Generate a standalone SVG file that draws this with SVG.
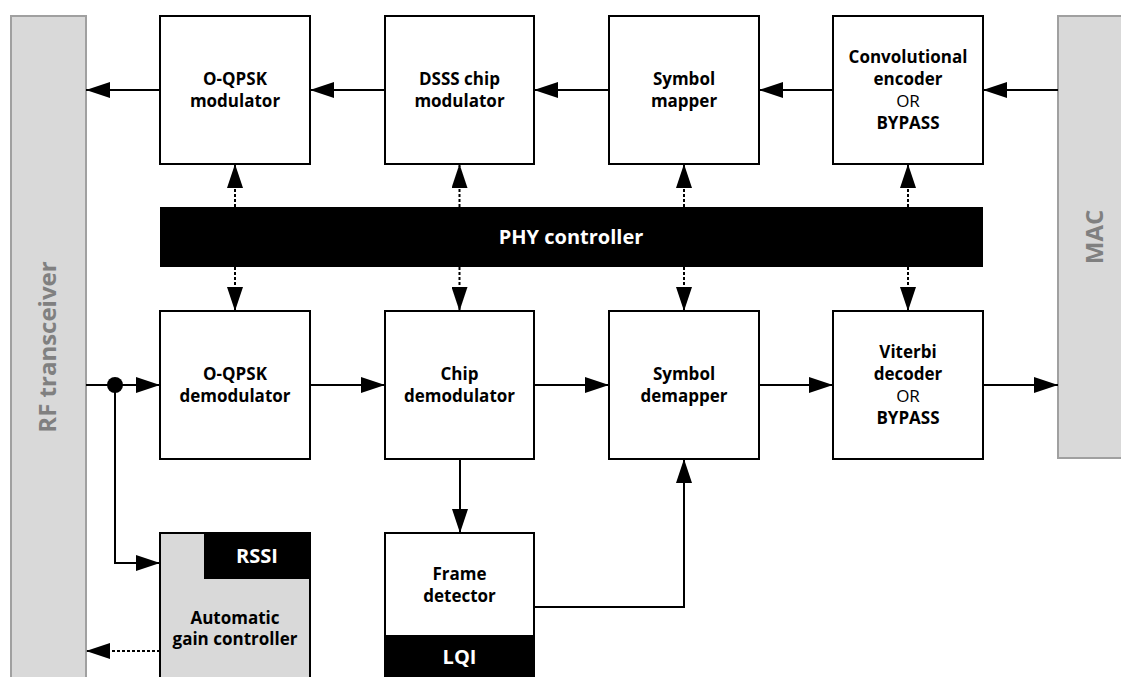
<svg xmlns="http://www.w3.org/2000/svg" width="1121" height="677" viewBox="0 0 1121 677">
<style>
.box{fill:#fff;stroke:#000;stroke-width:2}
.gbox{fill:#d9d9d9;stroke:#000;stroke-width:2}
.side{fill:#d9d9d9;stroke:#a0a0a0;stroke-width:2}
.t{font-family:"Open Sans","Noto Sans",sans-serif;font-size:17px;font-weight:bold;fill:#000;text-anchor:middle}
.n{font-weight:normal}
.w{fill:#fff}
.big{font-size:20px}
.side-t{font-family:"Open Sans","Noto Sans",sans-serif;font-size:24px;font-weight:bold;fill:#808080;text-anchor:middle}
.ln{fill:none;stroke:#000;stroke-width:2}
.dt{fill:none;stroke:#000;stroke-width:2;stroke-dasharray:3,2}
</style>
<defs>
<marker id="ah" markerUnits="userSpaceOnUse" markerWidth="24" markerHeight="16" refX="24" refY="8" orient="auto" viewBox="0 0 24 16">
<path d="M0,0 L24,8 L0,16 z" fill="#000"/>
</marker>
</defs>
<rect width="1121" height="677" fill="#fff"/>

<g id="rf">
<rect class="side" x="11" y="16" width="75" height="670"/>
<text class="side-t" transform="translate(56,347) rotate(-90)">RF transceiver</text>
</g>
<g id="mac">
<rect class="side" x="1058" y="16" width="75" height="442"/>
<text class="side-t" transform="translate(1103,237) rotate(-90)">MAC</text>
</g>

<g id="oqpsk-mod">
<rect class="box" x="160" y="16" width="150" height="148"/>
<text class="t" x="235" y="85">O-QPSK</text>
<text class="t" x="235" y="107">modulator</text>
</g>
<g id="dsss-mod">
<rect class="box" x="385" y="16" width="149" height="148"/>
<text class="t" x="459.5" y="85">DSSS chip</text>
<text class="t" x="459.5" y="107">modulator</text>
</g>
<g id="sym-mapper">
<rect class="box" x="609" y="16" width="150" height="148"/>
<text class="t" x="684" y="85">Symbol</text>
<text class="t" x="684" y="107">mapper</text>
</g>
<g id="conv-enc">
<rect class="box" x="833" y="16" width="150" height="148"/>
<text class="t" x="908" y="63">Convolutional</text>
<text class="t" x="908" y="85">encoder</text>
<text class="t n" x="908" y="107">OR</text>
<text class="t" x="908" y="129">BYPASS</text>
</g>

<g id="phy">
<rect x="160" y="207" width="823" height="60" fill="#000"/>
<text class="t w big" x="571" y="244">PHY controller</text>
</g>

<g id="oqpsk-demod">
<rect class="box" x="160" y="311" width="150" height="148"/>
<text class="t" x="235" y="380">O-QPSK</text>
<text class="t" x="235" y="402">demodulator</text>
</g>
<g id="chip-demod">
<rect class="box" x="385" y="311" width="149" height="148"/>
<text class="t" x="459.5" y="380">Chip</text>
<text class="t" x="459.5" y="402">demodulator</text>
</g>
<g id="sym-demapper">
<rect class="box" x="609" y="311" width="150" height="148"/>
<text class="t" x="684" y="380">Symbol</text>
<text class="t" x="684" y="402">demapper</text>
</g>
<g id="viterbi">
<rect class="box" x="833" y="311" width="150" height="148"/>
<text class="t" x="908" y="358">Viterbi</text>
<text class="t" x="908" y="380">decoder</text>
<text class="t n" x="908" y="402">OR</text>
<text class="t" x="908" y="424">BYPASS</text>
</g>

<g id="agc">
<rect class="gbox" x="160" y="533" width="150" height="160"/>
<rect x="205" y="533" width="105" height="45" fill="#000" stroke="#000" stroke-width="2"/>
<text class="t w big" x="257" y="563">RSSI</text>
<text class="t" x="235" y="624">Automatic</text>
<text class="t" x="235" y="645">gain controller</text>
</g>

<g id="frame-det">
<rect class="box" x="385" y="533" width="149" height="160"/>
<rect x="385" y="636" width="149" height="50" fill="#000" stroke="#000" stroke-width="2"/>
<text class="t" x="459.5" y="580">Frame</text>
<text class="t" x="459.5" y="602">detector</text>
<text class="t w big" x="459.5" y="664">LQI</text>
</g>

<g id="connectors">
<line class="ln" x1="160" y1="90" x2="86" y2="90" marker-end="url(#ah)"/>
<line class="ln" x1="385" y1="90" x2="310" y2="90" marker-end="url(#ah)"/>
<line class="ln" x1="609" y1="90" x2="534" y2="90" marker-end="url(#ah)"/>
<line class="ln" x1="833" y1="90" x2="759" y2="90" marker-end="url(#ah)"/>
<line class="ln" x1="1058" y1="90" x2="983" y2="90" marker-end="url(#ah)"/>

<line class="dt" x1="235" y1="207" x2="235" y2="164" marker-end="url(#ah)"/>
<line class="dt" x1="459.5" y1="207" x2="459.5" y2="164" marker-end="url(#ah)"/>
<line class="dt" x1="684" y1="207" x2="684" y2="164" marker-end="url(#ah)"/>
<line class="dt" x1="908" y1="207" x2="908" y2="164" marker-end="url(#ah)"/>
<line class="dt" x1="235" y1="267" x2="235" y2="311" marker-end="url(#ah)"/>
<line class="dt" x1="459.5" y1="267" x2="459.5" y2="311" marker-end="url(#ah)"/>
<line class="dt" x1="684" y1="267" x2="684" y2="311" marker-end="url(#ah)"/>
<line class="dt" x1="908" y1="267" x2="908" y2="311" marker-end="url(#ah)"/>

<line class="ln" x1="86" y1="385" x2="160" y2="385" marker-end="url(#ah)"/>
<circle cx="115" cy="385" r="8" fill="#000"/>
<polyline class="ln" points="115,385 115,563 160,563" marker-end="url(#ah)"/>
<line class="ln" x1="310" y1="385" x2="385" y2="385" marker-end="url(#ah)"/>
<line class="ln" x1="534" y1="385" x2="609" y2="385" marker-end="url(#ah)"/>
<line class="ln" x1="759" y1="385" x2="833" y2="385" marker-end="url(#ah)"/>
<line class="ln" x1="983" y1="385" x2="1058" y2="385" marker-end="url(#ah)"/>

<line class="ln" x1="460" y1="459" x2="460" y2="533" marker-end="url(#ah)"/>
<polyline class="ln" points="534,607 684,607 684,459" marker-end="url(#ah)"/>
<line class="dt" x1="160" y1="651" x2="86" y2="651" marker-end="url(#ah)"/>
</g>
</svg>
